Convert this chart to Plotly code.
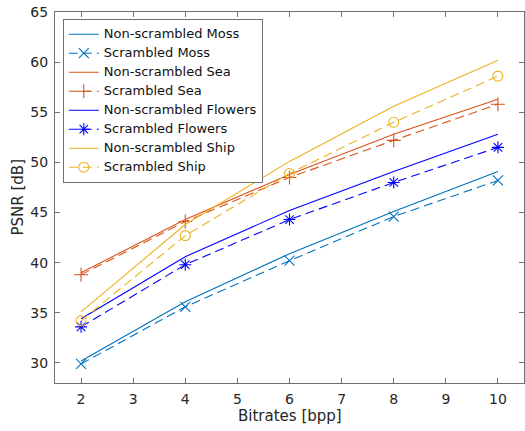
import plotly.graph_objects as go

bitrates = [2, 4, 6, 8, 10]

ns_moss = [30.2, 36.1, 40.9, 45.1, 49.1]
s_moss = [29.9, 35.6, 40.2, 44.6, 48.2]
ns_sea = [39.0, 44.3, 48.8, 52.8, 56.3]
s_sea = [38.8, 44.1, 48.5, 52.2, 55.8]
ns_flowers = [34.4, 40.6, 45.2, 49.1, 52.8]
s_flowers = [33.6, 39.8, 44.3, 48.0, 51.5]
ns_ship = [35.1, 43.8, 50.1, 55.6, 60.2]
s_ship = [34.2, 42.7, 48.9, 54.0, 58.6]

x_ticks = [2, 3, 4, 5, 6, 7, 8, 9, 10]
y_ticks = [30, 35, 40, 45, 50, 55, 60, 65]

series = [
    ("Non-scrambled Moss", ns_moss, "#0072BD", "solid", None),
    ("Scrambled Moss", s_moss, "#0072BD", "9px,5px", "x-thin"),
    ("Non-scrambled Sea", ns_sea, "#D95319", "solid", None),
    ("Scrambled Sea", s_sea, "#D95319", "9px,5px", "cross-thin"),
    ("Non-scrambled Flowers", ns_flowers, "#0000FF", "solid", None),
    ("Scrambled Flowers", s_flowers, "#0000FF", "9px,5px", "asterisk"),
    ("Non-scrambled Ship", ns_ship, "#EDB120", "solid", None),
    ("Scrambled Ship", s_ship, "#EDB120", "9px,5px", "circle-open"),
]

FONT = "DejaVu Sans"

fig = go.Figure()
for name, ys, color, dash, sym in series:
    label = f'<span style="font-size:13px">{name}</span>'
    if sym is None:
        fig.add_trace(go.Scatter(x=bitrates, y=ys, name=label, mode="lines",
                                 line=dict(color=color, width=1.1, dash=dash)))
    else:
        fig.add_trace(go.Scatter(x=bitrates, y=ys, name=label, mode="lines+markers",
                                 line=dict(color=color, width=1.1, dash=dash),
                                 marker=dict(symbol=sym, size=10, color=color,
                                             line=dict(color=color, width=1.1))))

axis_common = dict(
    showline=True, linecolor="#707070", linewidth=1, mirror="ticks",
    ticks="inside", ticklen=5, tickcolor="#707070", tickwidth=1,
    showgrid=False, zeroline=False, automargin=False,
    tickfont=dict(family=FONT, size=14, color="#262626"),
)

fig.update_layout(
    width=525, height=431,
    margin=dict(l=55, r=1, t=12, b=48),
    paper_bgcolor="white", plot_bgcolor="white",
    font=dict(family=FONT, color="#262626"),
    xaxis=dict(range=[1.5, 10.5], tickvals=x_ticks, ticklabelstandoff=3,
               **axis_common),
    yaxis=dict(range=[28, 65], tickvals=y_ticks, ticklabelstandoff=3,
               **axis_common),
    legend=dict(x=0.0166, y=0.982, xanchor="left", yanchor="top",
                bgcolor="white", bordercolor="#707070", borderwidth=1,
                font=dict(family=FONT, size=11, color="#111111"), tracegroupgap=0,
                itemwidth=30),
    showlegend=True,
    annotations=[
        dict(text="Bitrates [bpp]", xref="paper", yref="paper",
             x=0.5, y=-(416 - 383) / 371, xanchor="center", yanchor="middle",
             showarrow=False, font=dict(family=FONT, size=15, color="#262626")),
        dict(text="PSNR [dB]", xref="paper", yref="paper",
             x=(17 - 55) / 469, y=0.5, xanchor="center", yanchor="middle",
             textangle=-90, showarrow=False,
             font=dict(family=FONT, size=15, color="#262626")),
    ],
)

fig.write_html("out.html", config={"displayModeBar": False},
               post_script="document.body.style.margin='0';document.body.style.padding='0';")
